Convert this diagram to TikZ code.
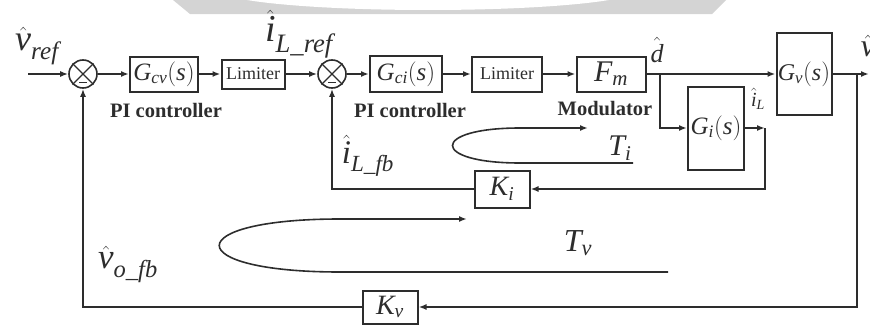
\documentclass[tikz,border=0pt]{standalone}
\usepackage{amsmath}
\usepackage{fontspec}
\setmainfont{Liberation Serif}
\usetikzlibrary{arrows.meta,positioning,calc}
\definecolor{lineColor}{RGB}{45,45,45}
\definecolor{markGray}{RGB}{212,212,212}
\newcommand{\vit}[1]{\text{\itshape #1}}

\begin{document}
\begin{tikzpicture}[
  x=1pt, y=-1pt,
  block/.style={draw=lineColor, line width=2pt, inner sep=0pt, text=lineColor, font=\fontsize{25}{27}\selectfont},
  limiter/.style={block, font=\fontsize{18}{20}\selectfont},
  sumnode/.style={draw=lineColor, circle, line width=1.6pt, minimum size=28pt, inner sep=0pt},
  caption/.style={font=\bfseries\fontsize{20.5}{22}\selectfont, text=lineColor},
  sig/.style={text=lineColor, inner sep=0pt},
  arrow/.style={-{Latex[length=8pt,width=6pt]}, line width=1.8pt, draw=lineColor},
  wire/.style={line width=1.8pt, draw=lineColor},
  loopline/.style={line width=1.6pt, draw=lineColor}
]
\useasboundingbox (0,0) rectangle (870,324);

% ------------------------------------------------------------------
% faint mark along the top edge
% ------------------------------------------------------------------
\fill[markGray] (173,0) -- (726,0) -- (712,14) -- (190,14) -- cycle;
\fill[white] (428,-10) ellipse (209 and 20);

% ------------------------------------------------------------------
% Forward path
% ------------------------------------------------------------------
\node[sumnode] (s1) at (83,74) {};
\draw[line width=1.4pt, lineColor] (s1.north west) -- (s1.south east) (s1.north east) -- (s1.south west);
\node[block, minimum width=68pt, minimum height=35pt] (gcv) at (164,74) {$\vit{G}_{\vit{cv}}(\vit{s})$};
\node[limiter, minimum width=63pt, minimum height=29pt] (lim1) at (253,74) {Limiter};
\node[sumnode] (s2) at (332,74) {};
\draw[line width=1.4pt, lineColor] (s2.north west) -- (s2.south east) (s2.north east) -- (s2.south west);
\node[block, minimum width=72pt, minimum height=36pt] (gci) at (406,74) {$\vit{G}_{\vit{ci}}(\vit{s})$};
\node[limiter, minimum width=70pt, minimum height=35pt] (lim2) at (507,74) {Limiter};
\node[block, minimum width=69pt, minimum height=35pt, font=\fontsize{30}{32}\selectfont] (fm) at (611,74) {$\vit{F}_{\vit{m}}$};
\node[block, minimum width=55pt, minimum height=82pt, font=\fontsize{24}{26}\selectfont] (gv) at (804,74) {$\vit{G}_{\vit{v}}(\vit{s})$};
\node[block, minimum width=56pt, minimum height=83pt, font=\fontsize{25}{27}\selectfont] (gi) at (716,128) {$\vit{G}_{\vit{i}}(\vit{s})$};

% ------------------------------------------------------------------
% Feedback gains
% ------------------------------------------------------------------
\node[block, minimum width=55pt, minimum height=37pt, font=\fontsize{28}{30}\selectfont] (ki) at (502,189) {$\vit{K}_{\vit{i}}$};
\node[block, minimum width=55pt, minimum height=33pt, font=\fontsize{28}{30}\selectfont] (kv) at (390,307) {$\vit{K}_{\vit{v}}$};

\coordinate (vin) at (28,74);
\coordinate (dsplit) at (660,74);
\coordinate (ilcorner) at (765,128);
\coordinate (vsplit) at (857,74);
\coordinate (vout) at (869,74);

\draw[arrow] (vin) -- (s1.west);
\draw[arrow] (s1.east) -- (gcv.west);
\draw[arrow] (gcv.east) -- (lim1.west);
\draw[arrow] (lim1.east) -- (s2.west);
\draw[arrow] (s2.east) -- (gci.west);
\draw[arrow] (gci.east) -- (lim2.west);
\draw[arrow] (lim2.east) -- (fm.west);
\draw[arrow] (fm.east) -- (gv.west);
\draw[arrow] (dsplit) |- (gi.west);
\draw[arrow] (gi.east) -- (ilcorner);
\draw[arrow] (ilcorner) |- (ki.east);
\draw[arrow] (ki.west) -| (s2.south);
\draw[arrow] (gv.east) -- (vout);
\draw[arrow] (vsplit) |- (kv.east);
\draw[arrow] (kv.west) -| (s1.south);

% minus signs inside the summers
\draw[line width=1pt, lineColor] ($(s1.center)+(-4,8)$) -- ($(s1.center)+(4,8)$);
\draw[line width=1pt, lineColor] ($(s2.center)+(-4,8)$) -- ($(s2.center)+(4,8)$);

% ------------------------------------------------------------------
% Loop gain markers
% ------------------------------------------------------------------
\coordinate (tistart) at (633,163);
\coordinate (tiend) at (588,128);
\draw[loopline, -{Latex[length=8pt,width=6pt]}] (tistart) -- (520,163) .. controls (430,163) and (430,128) .. (520,128) -- (tiend);
\coordinate (tvstart) at (668,272);
\coordinate (tvend) at (467,219);
\draw[loopline, -{Latex[length=8pt,width=6pt]}] (tvstart) -- (340,272) .. controls (179,272) and (179,219) .. (340,219) -- (tvend);

% ------------------------------------------------------------------
% Labels
% ------------------------------------------------------------------
\node[caption] (pi1) at (166,110) {PI controller};
\node[caption] (pi2) at (410,110) {PI controller};
\node[caption] (mod) at (605,109) {Modulator};

\node[sig, font=\fontsize{36}{38}\selectfont] (vref) at (37,46) {$\hat{\vit{v}}_{\vit{ref}}$};
\node[sig, font=\fontsize{38}{40}\selectfont] (ilref) at (299,34) {$\hat{\vit{i}}_{\vit{L\_ref}}$};
\node[sig, font=\fontsize{33}{35}\selectfont] (ilfb) at (368,156) {$\hat{\vit{i}}_{\vit{L\_fb}}$};
\node[sig, font=\fontsize{35}{37}\selectfont] (vofb) at (128,264) {$\hat{\vit{v}}_{\vit{o\_fb}}$};
\node[sig, font=\fontsize{26}{28}\selectfont] (dhat) at (657,50) {$\hat{\vit{d}}$};
\node[sig, font=\fontsize{20}{22}\selectfont] (ilhat) at (758,99) {$\hat{\vit{i}}_{\vit{L}}$};
\node[sig, font=\fontsize{32}{34}\selectfont] (vhat) at (868,46) {$\hat{\vit{v}}$};
\node[sig, font=\fontsize{30}{32}\selectfont] (ti) at (620,148) {$\vit{T}_{\vit{i}}$};
\node[sig, font=\fontsize{32}{34}\selectfont] (tv) at (578,243) {$\vit{T}_{\vit{v}}$};

\end{tikzpicture}
\end{document}
